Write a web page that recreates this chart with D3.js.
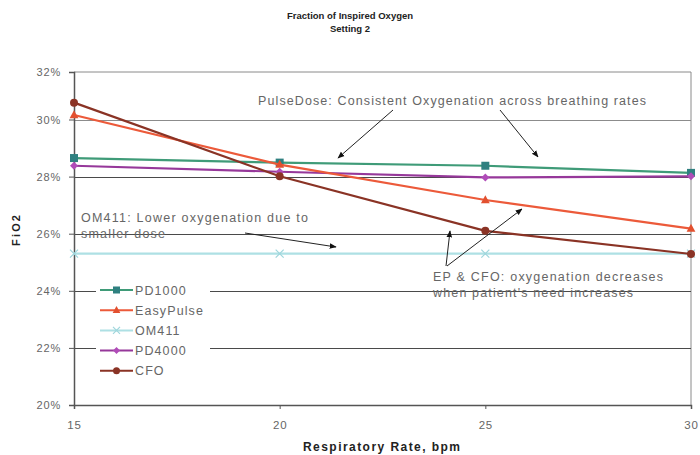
<!DOCTYPE html>
<html>
<head>
<meta charset="utf-8">
<script src="https://cdn.jsdelivr.net/npm/d3@7/dist/d3.min.js"></script>
<style>
  html, body { margin: 0; padding: 0; background: #fff; }
  svg { display: block; font-family: "Liberation Sans", Arial, sans-serif; }
</style>
</head>
<body>
<svg id="chart" width="700" height="455"></svg>
<script>
const rates = [15, 20, 25, 30];
const yTicks = [0.20, 0.22, 0.24, 0.26, 0.28, 0.30, 0.32];
const seriesNames = ["PD1000", "EasyPulse", "OM411", "PD4000", "CFO"];
const pd1000 = [0.2865, 0.2849, 0.2838, 0.2813];
const easyPulse = [0.3019, 0.2842, 0.2718, 0.2618];
const om411 = [0.2530, 0.2530, 0.2530, 0.2530];
const pd4000 = [0.2838, 0.2817, 0.2797, 0.2801];
const cfo = [0.3071, 0.2801, 0.2610, 0.2529];

const series = [
  {name: "PD1000", values: pd1000, line: "#3f9b78", marker: "#2f8080", shape: "square"},
  {name: "EasyPulse", values: easyPulse, line: "#ec5a3a", marker: "#e2502f", shape: "triangle"},
  {name: "OM411", values: om411, line: "#aee0e4", marker: "#9fd6dc", shape: "x"},
  {name: "PD4000", values: pd4000, line: "#96389a", marker: "#b04cb8", shape: "diamond"},
  {name: "CFO", values: cfo, line: "#8a3325", marker: "#8a3325", shape: "circle"}
];

const svg = d3.select("#chart");
const x = d3.scaleLinear().domain([15, 30]).range([74, 691]);
const y = d3.scaleLinear().domain([0.20, 0.30, 0.32]).range([405, 119.5, 72]);

svg.append("defs").append("marker")
  .attr("id", "arr").attr("viewBox", "0 0 10 10").attr("refX", 9).attr("refY", 5)
  .attr("markerWidth", 7).attr("markerHeight", 7).attr("orient", "auto")
  .append("path").attr("d", "M0,1 L10,5 L0,9 z").attr("fill", "#111");

// Title
svg.append("text").attr("x", 350).attr("y", 19).attr("text-anchor", "middle")
  .attr("font-size", 9.5).attr("font-weight", "bold").attr("fill", "#222").text("Fraction of Inspired Oxygen");
svg.append("text").attr("x", 350).attr("y", 32).attr("text-anchor", "middle")
  .attr("font-size", 9.5).attr("font-weight", "bold").attr("fill", "#222").text("Setting 2");

// plot border (top, right)
svg.append("path")
  .attr("d", `M${x(15)},${y(0.32)} H${x(30)} V${y(0.20)}`)
  .attr("fill", "none").attr("stroke", "#8a8a8a").attr("stroke-width", 1);

// gridlines
svg.append("g").selectAll("line").data(yTicks.filter(d => d > 0.2 && d < 0.32)).join("line")
  .attr("x1", x(15)).attr("x2", x(30))
  .attr("y1", d => Math.round(y(d)) + 0.5).attr("y2", d => Math.round(y(d)) + 0.5)
  .attr("stroke", d => d === 0.30 ? "#8c8c8c" : "#4a4a4a").attr("stroke-width", 1);

// axes
const yAxis = d3.axisLeft(y).tickValues(yTicks).tickFormat(d3.format(".0%")).tickSize(5).tickPadding(8);
const gy = svg.append("g").attr("transform", `translate(${x(15)},0)`).call(yAxis);
gy.select(".domain").attr("stroke", "#555").attr("stroke-width", 1.5);
gy.selectAll(".tick line").attr("stroke", "#555");
gy.selectAll("text").attr("font-size", 11).attr("letter-spacing", 0.8).attr("fill", "#666")
  .attr("font-family", "Liberation Sans, Arial, sans-serif");

const xAxis = d3.axisBottom(x).tickValues(rates).tickFormat(d3.format("d")).tickSize(4).tickPadding(12);
const gx = svg.append("g").attr("transform", `translate(0,${y(0.20)})`).call(xAxis);
gx.select(".domain").attr("stroke", "#555").attr("stroke-width", 1.5);
gx.selectAll(".tick line").attr("stroke", "#555");
gx.selectAll("text").attr("font-size", 11.5).attr("letter-spacing", 0.8).attr("fill", "#666")
  .attr("font-family", "Liberation Sans, Arial, sans-serif");

// axis titles
svg.append("text").attr("x", 303).attr("y", 451)
  .attr("font-size", 12).attr("font-weight", "bold").attr("fill", "#222")
  .attr("textLength", 157).attr("lengthAdjust", "spacing").text("Respiratory Rate, bpm");
svg.append("text").attr("transform", `translate(20,246) rotate(-90)`)
  .attr("font-size", 11).attr("font-weight", "bold").attr("fill", "#222")
  .attr("textLength", 31).attr("lengthAdjust", "spacing").text("FiO2");

function drawMarker(g, shape, color, size) {
  const s = size;
  if (shape === "square") g.append("rect").attr("x", -s).attr("y", -s).attr("width", 2*s).attr("height", 2*s).attr("fill", color);
  else if (shape === "circle") g.append("circle").attr("r", s).attr("fill", color);
  else if (shape === "triangle") g.append("path").attr("d", `M0,${-s*1.2} L${s*1.1},${s*0.8} L${-s*1.1},${s*0.8} Z`).attr("fill", color);
  else if (shape === "diamond") g.append("path").attr("d", `M0,${-s} L${s},0 L0,${s} L${-s},0 Z`).attr("fill", color);
  else if (shape === "x") g.append("path").attr("d", `M${-s},${-s} L${s},${s} M${-s},${s} L${s},${-s}`).attr("stroke", color).attr("stroke-width", 1.2);
}

const line = d3.line().x((d, i) => x(rates[i])).y(d => y(d));
const order = ["OM411", "PD1000", "PD4000", "EasyPulse", "CFO"];
order.forEach(nm => {
  const s = series.find(d => d.name === nm);
  svg.append("path").datum(s.values).attr("d", line)
    .attr("fill", "none").attr("stroke", s.line).attr("stroke-width", 2.2);
  s.values.forEach((v, i) => {
    const g = svg.append("g").attr("transform", `translate(${x(rates[i])},${y(v)})`);
    drawMarker(g, s.shape, s.marker, 4);
  });
});

// legend
const lg = svg.append("g");
lg.append("rect").attr("x", 96).attr("y", 281).attr("width", 114).attr("height", 98).attr("fill", "#fff");
series.forEach((s, i) => {
  const yy = 290 + i * 20.2;
  lg.append("line").attr("x1", 100).attr("x2", 133).attr("y1", yy).attr("y2", yy)
    .attr("stroke", s.line).attr("stroke-width", 2);
  const g = lg.append("g").attr("transform", `translate(116.5,${yy})`);
  drawMarker(g, s.shape, s.marker, 3.5);
  lg.append("text").attr("x", 135).attr("y", yy + 4.5).attr("font-size", 12.5)
    .attr("letter-spacing", 1.1).attr("fill", "#666").text(s.name);
});

// annotations
const ann = svg.append("g").attr("font-size", 12.5).attr("fill", "#666");
const annText = (t, ax, ay, len) => ann.append("text").attr("x", ax).attr("y", ay)
  .attr("textLength", len).attr("lengthAdjust", "spacing").text(t);
annText("PulseDose: Consistent Oxygenation across breathing rates", 258, 105, 388);
annText("OM411: Lower oxygenation due to", 81, 222, 227);
annText("smaller dose", 81, 238, 84);
annText("EP & CFO: oxygenation decreases", 433, 281, 230);
annText("when patient's need increases", 433, 297, 200);

const arrows = [
  [393, 110, 338, 158],
  [500, 110, 538, 157],
  [245, 233, 336, 247],
  [446, 266, 450, 231],
  [447, 266, 522, 209]
];
svg.append("g").selectAll("line").data(arrows).join("line")
  .attr("x1", d => d[0]).attr("y1", d => d[1]).attr("x2", d => d[2]).attr("y2", d => d[3])
  .attr("stroke", "#222").attr("stroke-width", 1).attr("marker-end", "url(#arr)");
</script>
</body>
</html>
